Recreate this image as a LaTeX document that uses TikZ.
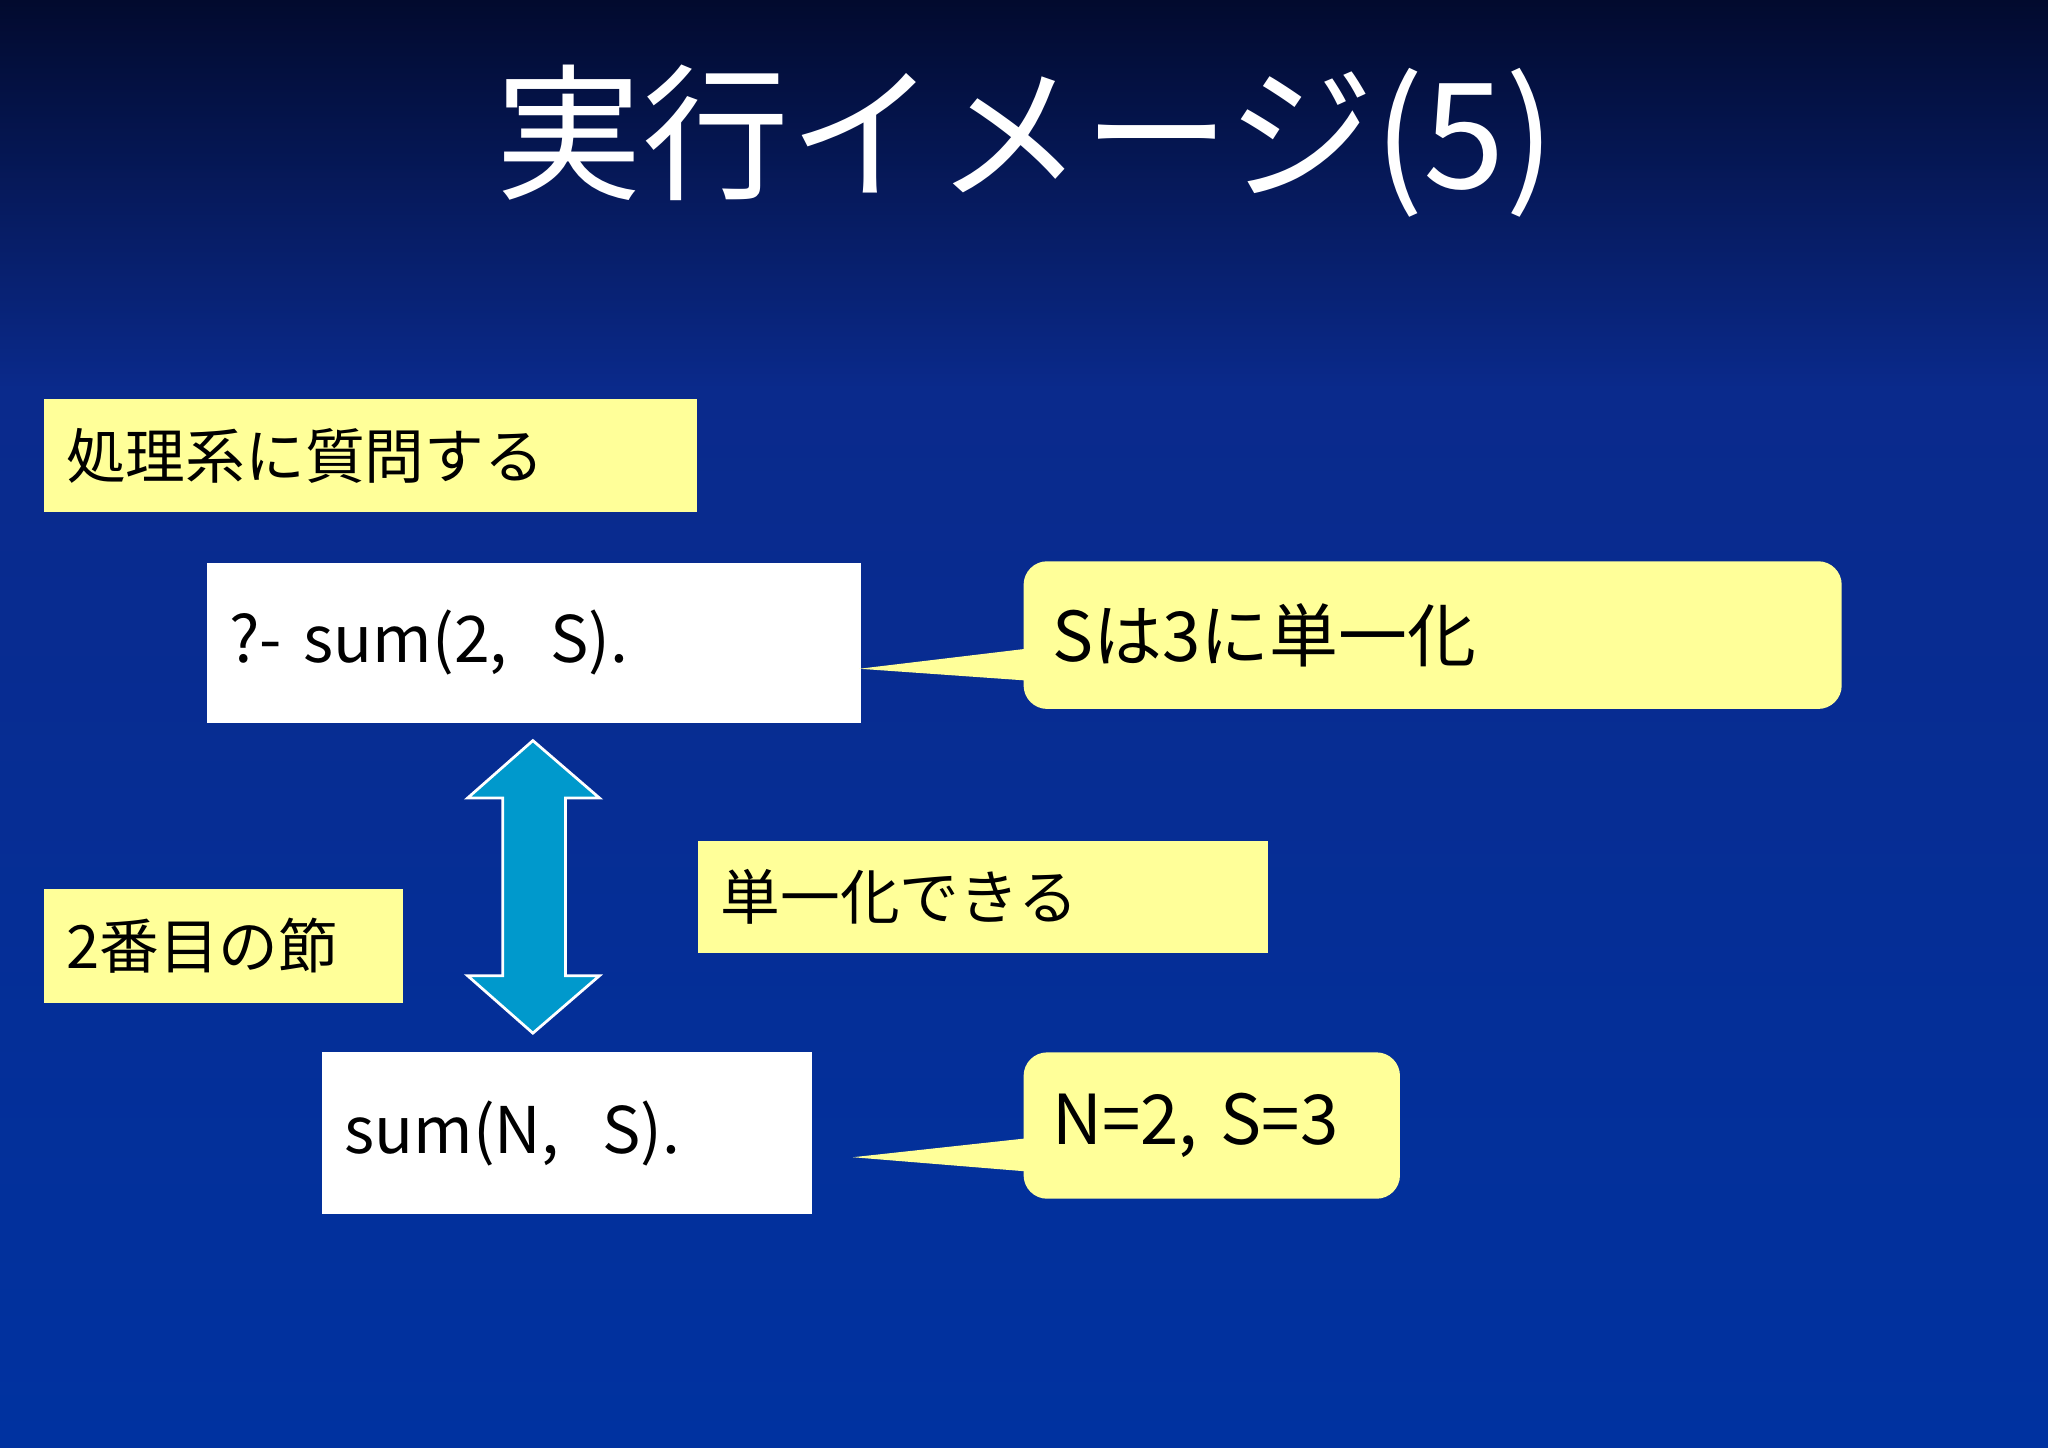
\documentclass[tikz,border=0pt]{standalone}
\usepackage{fontspec}
\setmainfont{Noto Sans CJK JP}
\newfontfamily\jp{Noto Sans CJK JP}
\usetikzlibrary{shapes.arrows}
\definecolor{ylw}{HTML}{FFFF99}
\definecolor{navytop}{HTML}{020A2E}
\definecolor{navymid}{HTML}{0A2A8C}
\definecolor{navybot}{HTML}{0032A0}
\definecolor{arr}{HTML}{0099CC}
\tikzset{
  ybox/.style={fill=ylw, anchor=north west, inner xsep=0.17cm, align=left, font=\jp\fontsize{13}{15}\selectfont, text=black},
  wbox/.style={fill=white, anchor=north west, inner xsep=0.17cm, align=left, font=\jp\fontsize{14}{16}\selectfont, text=black},
  callout/.style={fill=ylw, rounded corners=0.18cm, anchor=north west, inner xsep=0.22cm, align=left, font=\jp\fontsize{15}{17}\selectfont, text=black},
}
\begin{document}
\begin{tikzpicture}[x=0.01cm,y=-0.01cm]
\useasboundingbox (0,0) rectangle (1568,1108);
\shade[top color=navytop, bottom color=navymid] (0,0) rectangle (1568,300);
\shade[top color=navymid, bottom color=navybot] (0,300) rectangle (1568,1108);
\node (title) at (785,108) {\jp\fontsize{32}{36}\selectfont\color{white}実行イメージ(5)};
% yellow label boxes
\node[ybox, minimum width=5cm, minimum height=0.86cm, text width=4.66cm] (q) at (33,305) {処理系に質問する};
\node[ybox, minimum width=4.36cm, minimum height=0.86cm, text width=4.02cm] (u) at (534,643) {単一化できる};
\node[ybox, minimum width=2.75cm, minimum height=0.87cm, text width=2.41cm] (c2) at (33,680) {2番目の節};
% white boxes
\node[wbox, minimum width=5cm, minimum height=1.23cm, text width=4.66cm] (goal) at (158,430) {?-\ sum(2,\ \ S).\\[0.3cm]};
\node[wbox, minimum width=3.75cm, minimum height=1.24cm, text width=3.41cm] (clause) at (246,805) {sum(N,\ \ S).\\[0.3cm]};
% callouts
\coordinate (p1) at (658,512);
\coordinate (p2) at (653,886);
\fill[ylw] (p1) -- (800,495) -- (800,522) -- cycle;
\fill[ylw] (p2) -- (800,870) -- (800,898) -- cycle;
\node[callout, minimum width=6.26cm, minimum height=1.13cm, text width=5.82cm] (s3) at (783,429) {Sは3に単一化\\[0.3cm]};
\node[callout, minimum width=2.88cm, minimum height=1.12cm, text width=2.44cm] (n2) at (783,805) {N=2, S=3\\[0.3cm]};
% double arrow
\draw[white, line width=0.6pt, fill=arr] (408,567) -- (459,611) -- (433,611) -- (433,747) -- (459,747) -- (408,791) -- (358,747) -- (385,747) -- (385,611) -- (358,611) -- cycle;
\end{tikzpicture}
\end{document}
